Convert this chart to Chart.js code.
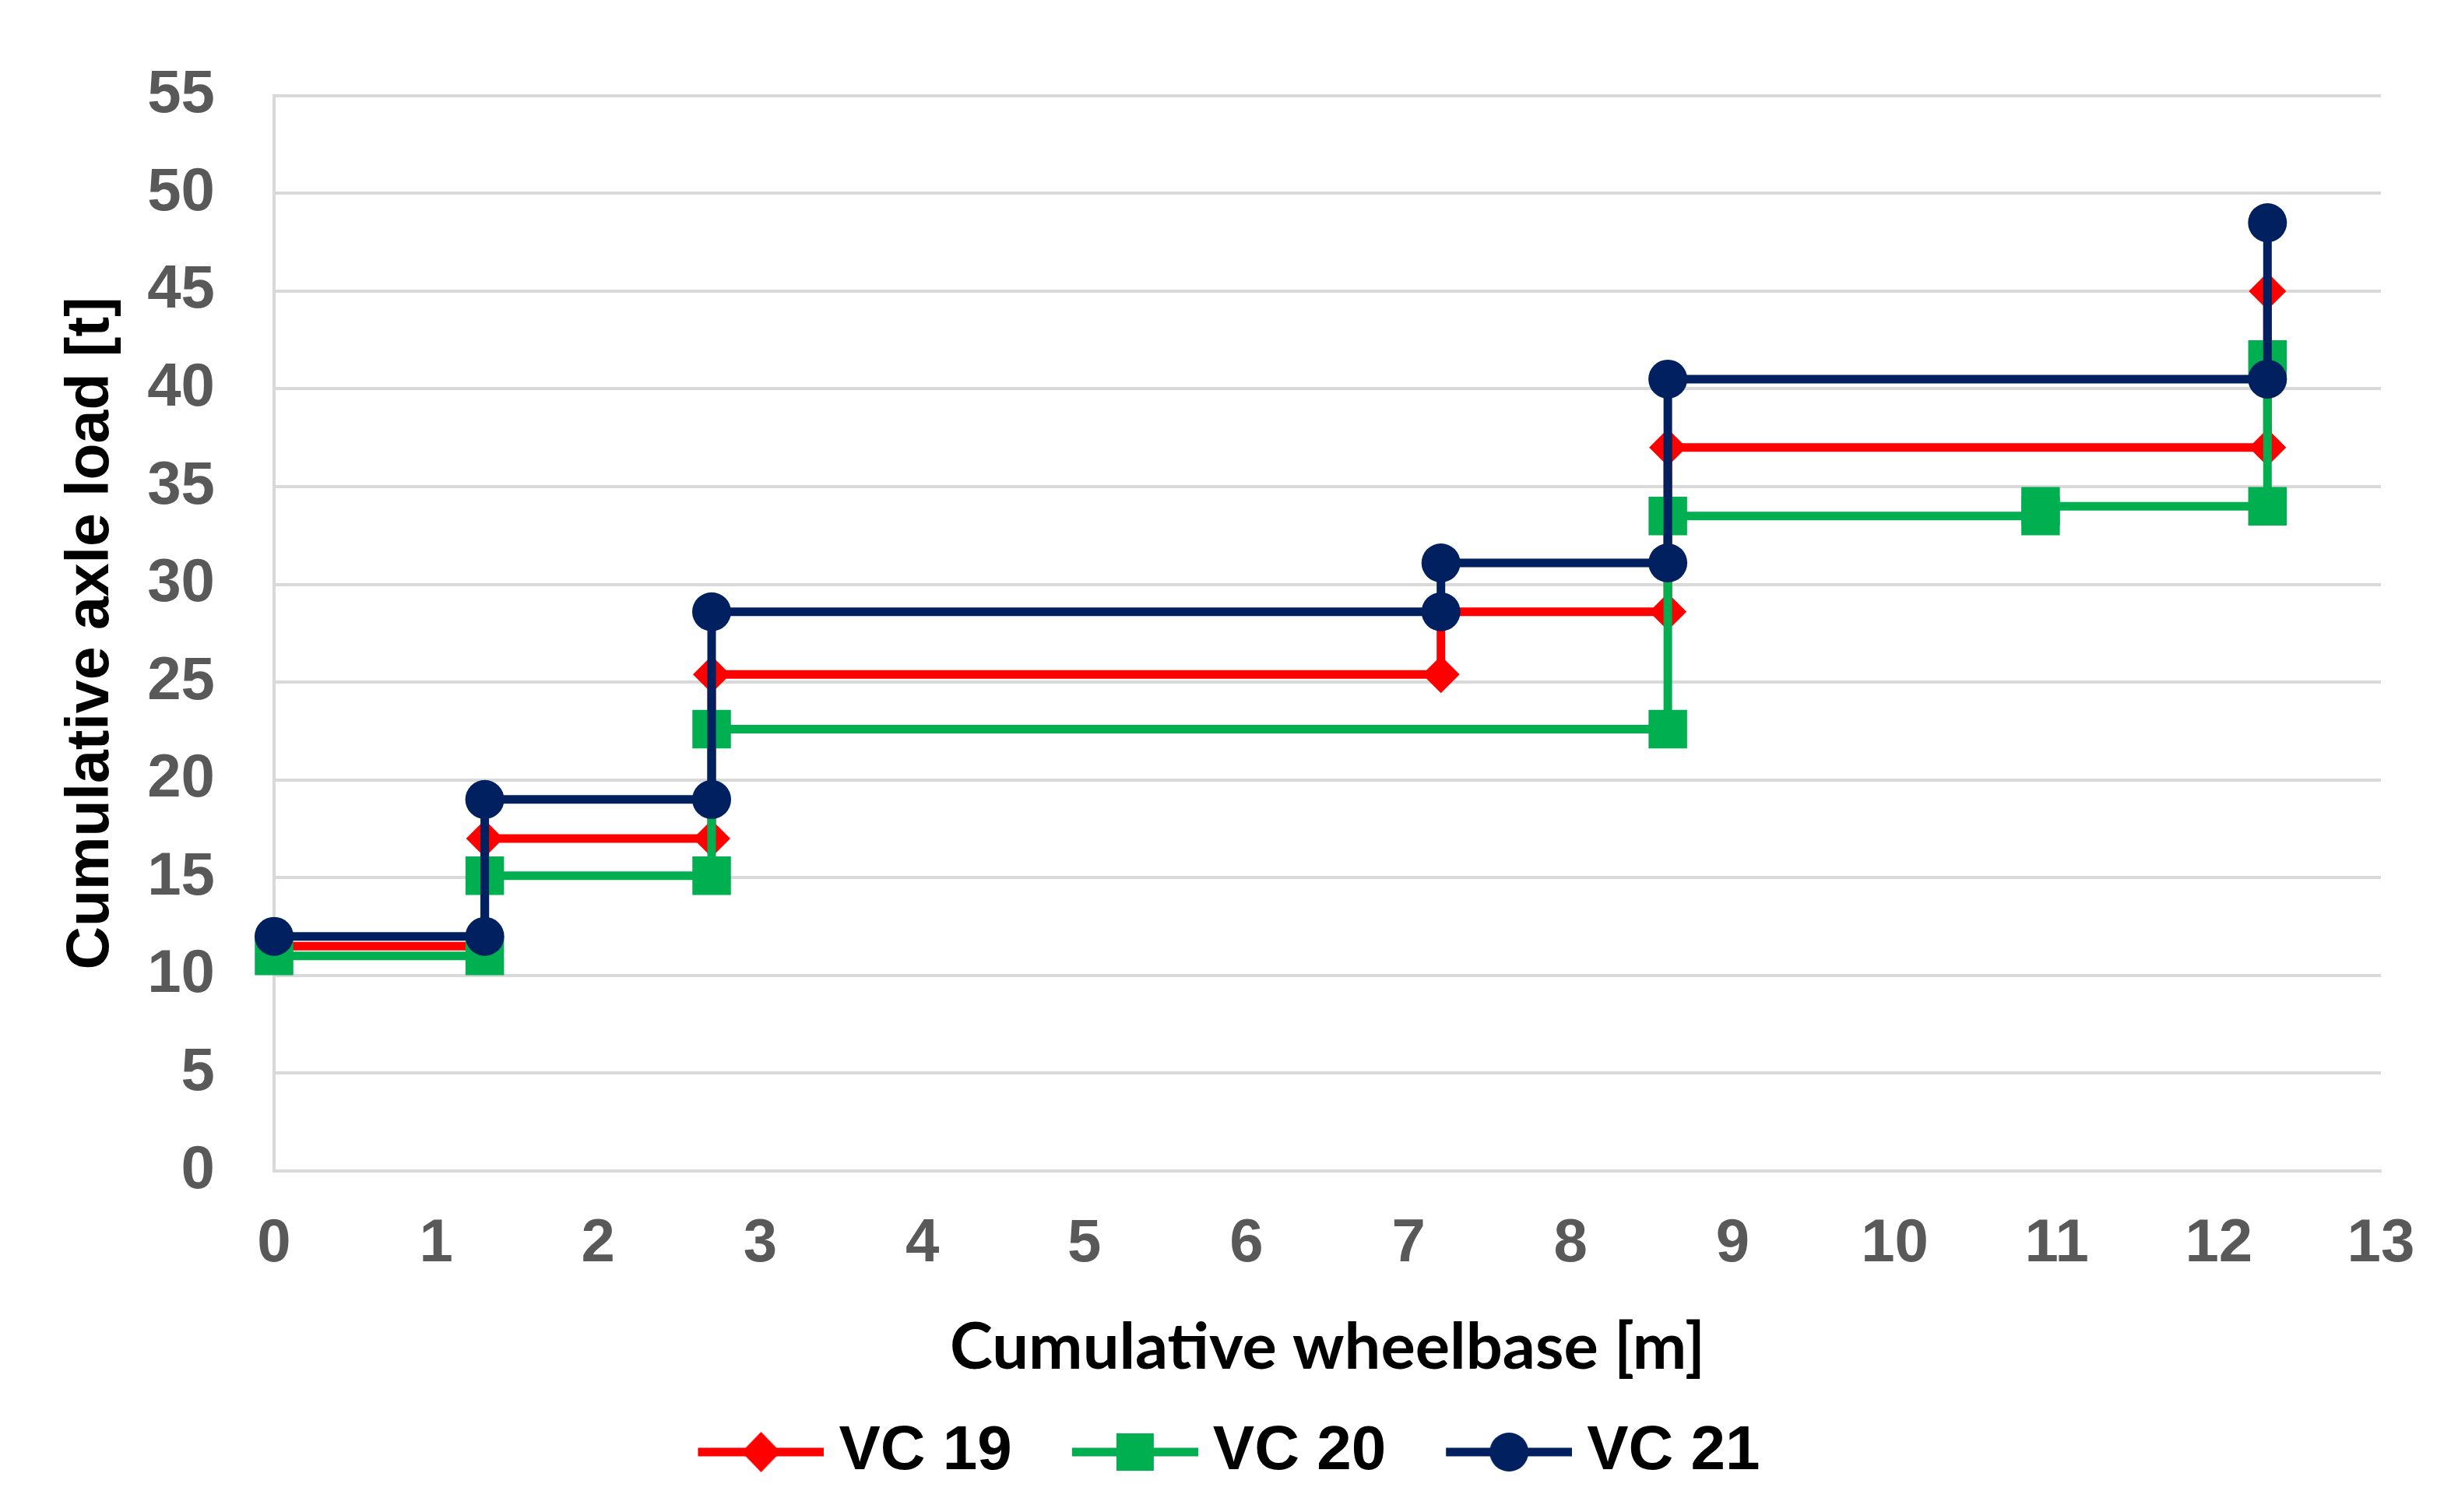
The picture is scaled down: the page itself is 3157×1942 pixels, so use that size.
<!DOCTYPE html>
<html>
<head>
<meta charset="utf-8">
<title>Cumulative axle load</title>
<script src="https://cdn.jsdelivr.net/npm/chart.js@4.4.1/dist/chart.umd.min.js"></script>
<style>
  html, body { margin: 0; padding: 0; background: #fff; }
  #wrap { width: 3157px; height: 1942px; }
</style>
</head>
<body>
<div id="wrap"><canvas id="axleChart" width="3157" height="1942"></canvas></div>
<script>
// Series names
const seriesNames = ['VC 19', 'VC 20', 'VC 21'];

// Step points: wheelbase [m] and cumulative load [t]
const wheelbaseVC19 = [0, 1.3, 1.3, 2.7, 2.7, 7.2, 7.2, 8.6, 8.6, 12.3, 12.3];
const loadVC19 = [11.5, 11.5, 17, 17, 25.4, 25.4, 28.6, 28.6, 37, 37, 45];

const wheelbaseVC20 = [0, 1.3, 1.3, 2.7, 2.7, 8.6, 8.6, 10.9, 10.9, 12.3, 12.3];
const loadVC20 = [11, 11, 15.1, 15.1, 22.6, 22.6, 33.5, 33.5, 34, 34, 41.5];

const wheelbaseVC21 = [0, 1.3, 1.3, 2.7, 2.7, 7.2, 7.2, 8.6, 8.6, 12.3, 12.3];
const loadVC21 = [12, 12, 19, 19, 28.6, 28.6, 31.1, 31.1, 40.5, 40.5, 48.5];

const colors = ['#ff0000', '#00b050', '#002060'];

function toPoints(xs, ys) {
    return xs.map((x, i) => ({ x: x, y: ys[i] }));
}

// Legend swatch: line with the marker in the middle
function makeSwatch(color, shape) {
    const c = document.createElement('canvas');
    c.width = 183;
    c.height = 64;
    const g = c.getContext('2d');
    const cy = 32, cx = 102;
    g.strokeStyle = color;
    g.fillStyle = color;
    g.lineWidth = 11;
    g.beginPath();
    g.moveTo(21, cy);
    g.lineTo(183, cy);
    g.stroke();
    g.beginPath();
    if (shape === 'diamond') {
        g.moveTo(cx - 25, cy);
        g.lineTo(cx, cy - 26);
        g.lineTo(cx + 25, cy);
        g.lineTo(cx, cy + 26);
        g.closePath();
    } else if (shape === 'square') {
        g.rect(cx - 24, cy - 24, 48, 48);
    } else {
        g.arc(cx, cy, 25, 0, Math.PI * 2);
    }
    g.fill();
    return c;
}

const swatches = [
    makeSwatch(colors[0], 'diamond'),
    makeSwatch(colors[1], 'square'),
    makeSwatch(colors[2], 'circle')
];

const tickFont = { family: 'Liberation Sans', size: 78, weight: 'bold' };

const ctx = document.getElementById('axleChart').getContext('2d');
const chart = new Chart(ctx, {
    type: 'scatter',
    data: {
        datasets: [{
            label: seriesNames[0],
            data: toPoints(wheelbaseVC19, loadVC19),
            borderColor: colors[0],
            backgroundColor: colors[0],
            pointStyle: 'rectRot',
            pointRadius: 24,
            order: 3
        }, {
            label: seriesNames[1],
            data: toPoints(wheelbaseVC20, loadVC20),
            borderColor: colors[1],
            backgroundColor: colors[1],
            pointStyle: 'rect',
            pointRadius: 35,
            order: 2
        }, {
            label: seriesNames[2],
            data: toPoints(wheelbaseVC21, loadVC21),
            borderColor: colors[2],
            backgroundColor: colors[2],
            pointStyle: 'circle',
            pointRadius: 25,
            order: 1
        }].map(ds => Object.assign(ds, {
            showLine: true,
            borderWidth: 11,
            tension: 0,
            pointBorderWidth: 0,
            pointHoverRadius: ds.pointRadius,
            clip: false
        }))
    },
    options: {
        responsive: false,
        animation: false,
        layout: { padding: { left: 0, right: 0, top: 101, bottom: 27 } },
        plugins: {
            tooltip: { enabled: false },
            legend: {
                position: 'bottom',
                labels: {
                    usePointStyle: true,
                    pointStyleWidth: 141,
                    padding: 77,
                    color: '#000',
                    font: { family: 'Liberation Sans', size: 80, weight: 'bold' },
                    generateLabels: () => seriesNames.map((name, i) => ({
                        text: name,
                        fillStyle: colors[i],
                        strokeStyle: colors[i],
                        fontColor: '#000',
                        pointStyle: swatches[i],
                        hidden: false,
                        datasetIndex: i
                    }))
                }
            }
        },
        scales: {
            x: {
                type: 'linear',
                min: 0,
                max: 13,
                ticks: { stepSize: 1, color: '#595959', font: tickFont, padding: 48 },
                grid: { display: false, drawTicks: false },
                border: { color: '#d9d9d9', width: 4 },
                title: {
                    display: true,
                    text: 'Cumulative wheelbase [m]',
                    color: '#000',
                    font: { family: 'Lato', size: 83, weight: 'bold' },
                    padding: { top: 0, bottom: -33 }
                },
                afterFit: s => { s.height = 244; }
            },
            y: {
                min: 0,
                max: 55,
                ticks: { stepSize: 5, color: '#595959', font: tickFont, padding: 76 },
                grid: { color: '#d9d9d9', lineWidth: 4, drawTicks: false },
                border: { color: '#d9d9d9', width: 4 },
                title: {
                    display: true,
                    text: 'Cumulative axle load [t]',
                    color: '#000',
                    font: { family: 'Liberation Sans', size: 77, weight: 'bold' },
                    padding: { top: 72, bottom: 0 }
                },
                afterFit: s => { s.width = 352; }
            },
            yRight: {
                position: 'right',
                display: true,
                ticks: { display: false },
                grid: { display: false },
                border: { display: false },
                afterFit: s => { s.width = 99; }
            }
        }
    }
});
</script>
</body>
</html>
